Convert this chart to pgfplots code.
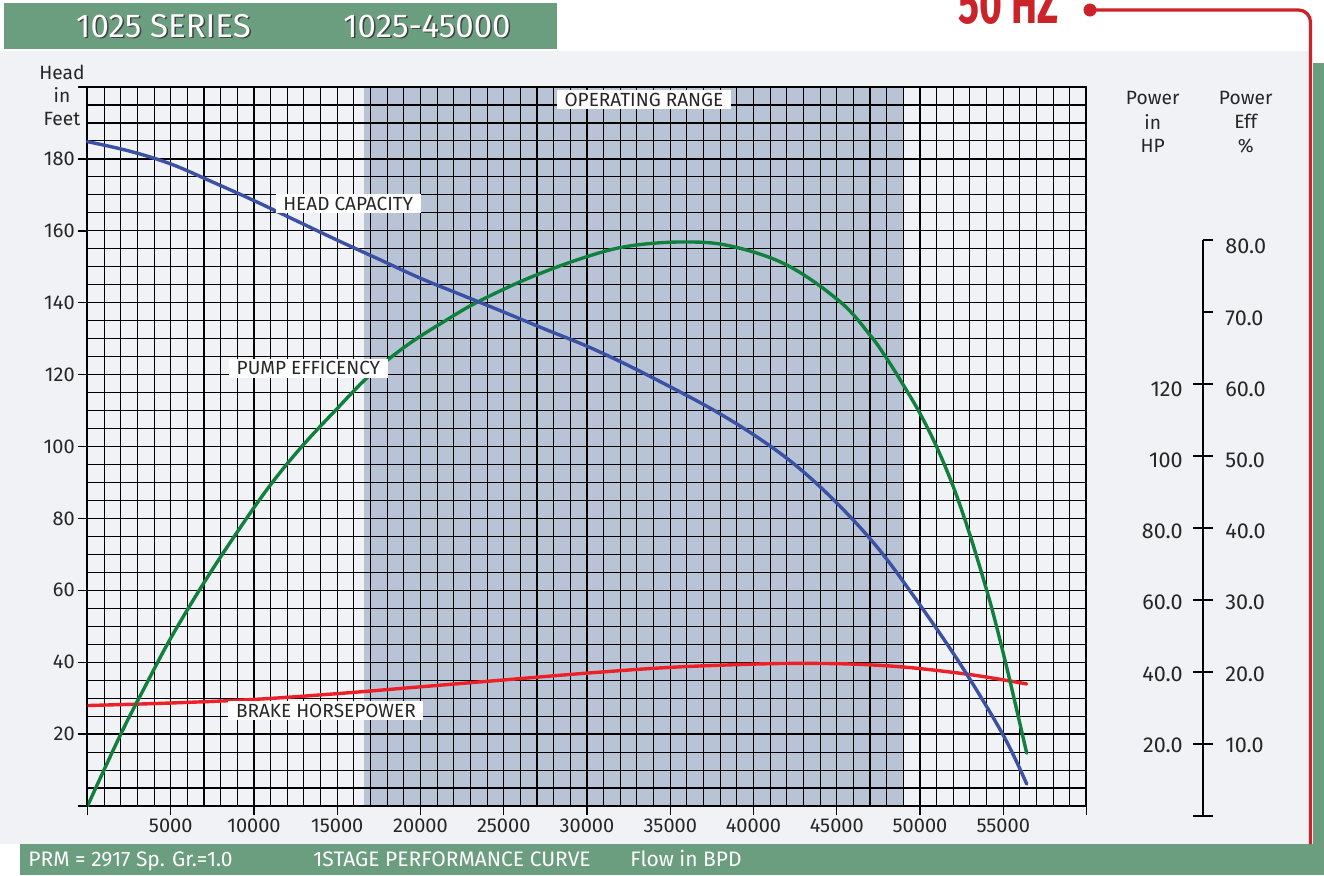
\documentclass[border=0pt]{standalone}
\usepackage{graphicx}
\usepackage{fontspec}
\setmainfont{Fira Sans}
\usepackage{pgfplots}
\usepackage{pgfplotstable}
\pgfplotsset{compat=1.18}

\definecolor{panelbg}{RGB}{241,242,246}
\definecolor{hdrgreen}{RGB}{107,157,127}
\definecolor{oprange}{RGB}{184,196,214}
\definecolor{headblue}{RGB}{59,81,163}
\definecolor{effgreen}{RGB}{16,128,62}
\definecolor{bhpred}{RGB}{237,32,39}
\definecolor{hzred}{RGB}{204,34,41}
\definecolor{txt}{RGB}{38,38,38}

\pgfplotstableread{
flow head
0 184.8
2500 182.2
5000 178.6
7500 173.6
10000 168.4
12500 162.9
15000 157.4
17500 152.1
20000 146.8
22500 142.1
25000 137.4
27500 132.6
30000 127.9
32500 122.5
35000 116.6
37500 110.4
40000 103.3
42500 94.9
45000 84.3
47500 71.6
50000 55.9
52500 38.9
55000 19.7
56410 6.1
}\headdata

\pgfplotstableread{
flow eff
0 1.35
2000 11.34
3500 18.13
5050 24.87
7200 33.11
9550 41.29
11200 46.59
12950 51.48
14900 56.32
16970 61.22
19200 65.36
21570 68.86
23470 71.40
26580 74.75
29980 77.64
32580 79.14
35780 79.69
38590 79.14
41990 76.50
45195 71.40
47000 66.76
48000 63.51
49000 59.82
50000 55.87
51000 51.23
52000 45.69
53000 39.00
54000 31.36
54500 27.16
55000 22.57
55470 18.08
56410 8.69
}\effdata

\pgfplotstableread{
flow hp
0 30.6
5000 31.3
10000 32.3
15000 33.9
20000 35.8
25000 37.7
30000 39.6
35000 41.2
40000 42.1
43000 42.3
46000 42.1
49000 41.3
52000 39.8
54000 38.5
56410 36.6
}\hpdata

\pgfplotsset{
  base/.style={at={(43.75pt,-403pt)}, anchor=south west, scale only axis,
    width=499.5pt, height=359.5pt, xmin=0, xmax=60000},
  curve/.style={line width=1.7pt, line cap=round, smooth, tension=0.6},
}

\begin{document}
\begin{tikzpicture}
\begin{scope}[x=0.5pt,y=-0.5pt]
\useasboundingbox (0,0) rectangle (1324,875);
\fill[white] (0,0) rectangle (1324,875);
\fill[panelbg] (0,51) rectangle (1310,844);
\fill[hdrgreen] (4,3) rectangle (557,49);
\fill[hdrgreen] (1313,63) rectangle (1324,875);
\fill[hdrgreen] (20,844) rectangle (1324,875);
% header texts
\foreach \t/\xx in {1025 SERIES/163.5, 1025-45000/427}{
  \node[text=black!75, inner sep=0, font=\fontsize{16.5}{18}\selectfont] at (\xx+1.5,27.5) {\t};
  \node[text=white, inner sep=0, font=\fontsize{16.5}{18}\selectfont] at (\xx,26) {\t};
}
% 50 HZ
\node[anchor=base west, inner sep=0, text=hzred] at (958,23.5)
  {\scalebox{0.7}[1]{\fontsize{28}{28}\selectfont\bfseries 50 HZ}};
\draw[hzred, line width=1.65pt, rounded corners=6pt] (1090,10) -- (1310.5,10) -- (1310.5,844);
\fill[hzred] (1090,10) circle (6.5);
% bottom bar text
\begin{scope}[every node/.style={anchor=base west, inner sep=0, text=white, font=\fontsize{10.5}{12}\selectfont}]
\node at (28,866) {PRM = 2917 Sp. Gr.=1.0};
\node at (313,866) {1STAGE PERFORMANCE CURVE};
\node at (630,866) {Flow in BPD};
\end{scope}
\end{scope}

% operating range shading
\begin{axis}[base, ymin=0, ymax=200, hide axis]
\addplot[fill=oprange, draw=none] coordinates {(16600,200) (49000,200)} \closedcycle;
\end{axis}

% grid axis
\begin{axis}[base, ymin=0, ymax=200,
  scaled x ticks=false, scaled y ticks=false,
  xtick={0,5000,...,60000},
  xticklabels={,5000,10000,15000,20000,25000,30000,35000,40000,45000,50000,55000,},
  ytick={0,20,...,200},
  yticklabels={,20,40,60,80,100,120,140,160,180,},
  minor x tick num=4,
  minor y tick num=3,
  grid=both,
  major grid style={black, line width=0.62pt},
  minor grid style={black, line width=0.55pt},
  tick pos=left, tick align=outside,
  major tick length=4.6pt, minor tick length=0pt,
  tick style={black, line width=0.7pt},
  axis line style={black, line width=1pt},
  ticklabel style={font=\fontsize{10}{12}\selectfont, text=txt},
  yticklabel style={inner sep=1.6pt},
  xticklabel style={inner sep=1.6pt},
  /pgf/number format/assume math mode=true,
]
\end{axis}

% brake horsepower
\begin{axis}[base, ymin=2.69, ymax=202.4, hide axis]
\addplot[curve, bhpred] table[x=flow, y=hp] {\hpdata};
\end{axis}

% pump efficiency
\begin{axis}[base, ymin=1.347, ymax=101.21, hide axis]
\addplot[curve, effgreen] table[x=flow, y=eff] {\effdata};
\end{axis}

% head capacity + labels
\begin{axis}[base, ymin=0, ymax=200, hide axis, clip=false]
\addplot[curve, headblue] table[x=flow, y=head] {\headdata};
\begin{scope}[every node/.style={fill=white, text=txt, inner xsep=3.8pt, inner ysep=1.4pt,
   text height=6.7pt, text depth=0pt, font=\fontsize{9.5}{11}\selectfont}]
\node at (axis cs:33420,196.4) {OPERATING RANGE};
\node at (axis cs:15660,167.6) {HEAD CAPACITY};
\node at (axis cs:13270,121.8) {PUMP EFFICENCY};
\node at (axis cs:14320,26.6) {BRAKE HORSEPOWER};
\end{scope}
\end{axis}

% right axes and titles
\begin{scope}[x=0.5pt,y=-0.5pt]
\draw[black, line width=1pt] (1203,239.7) -- (1203,815.7);
\foreach \e in {0,10,...,60}{
  \draw[black, line width=1pt] (1193,815.7-7.2*\e) -- (1213,815.7-7.2*\e);
}
\foreach \e in {70,80}{
  \draw[black, line width=1pt] (1203,815.7-7.2*\e) -- (1213,815.7-7.2*\e);
}
\begin{scope}[every node/.style={inner sep=0, text=txt, font=\fontsize{10.8}{12}\selectfont}]
\foreach \e in {10,20,...,80}{
  \node[anchor=west] at (1225,745-7.118*\e+71.18) {\e.0};
}
\foreach \e/\h in {10/20.0,20/40.0,30/60.0,40/80.0,50/100,60/120}{
  \node[anchor=east] at (1183,745-7.118*\e+71.18) {\h};
}
\end{scope}
\begin{scope}[every node/.style={inner sep=0, text=txt, font=\fontsize{9.6}{11}\selectfont, align=center}]
\node at (62,72) {Head};
\node at (62,95.5) {in};
\node at (62,119) {Feet};
\node at (1152.7,98.3) {Power};
\node at (1152.7,121.7) {in};
\node at (1152.7,145.7) {HP};
\node at (1245.7,98.3) {Power};
\node at (1245.7,121.7) {Eff};
\node at (1245.7,145.7) {\%};
\end{scope}
\end{scope}
\end{tikzpicture}
\end{document}
